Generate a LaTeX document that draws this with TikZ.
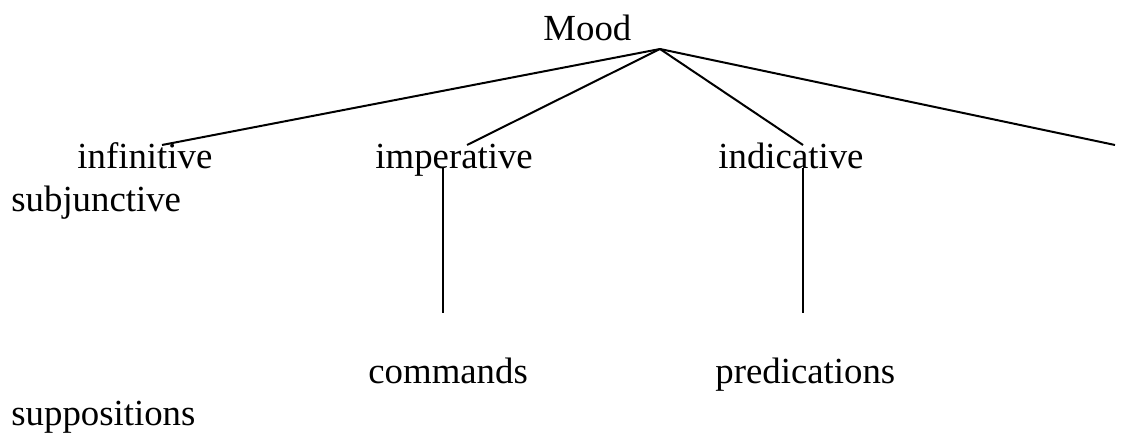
\documentclass[tikz,border=0pt]{standalone}
\usepackage{fontspec}
\setmainfont{Liberation Serif}
\tikzset{
  word/.style={inner sep=0pt, anchor=base west, font=\fontsize{18.4}{22}\selectfont},
  branch/.style={line width=1pt}
}

\begin{document}
\begin{tikzpicture}[x=0.5pt, y=-0.5pt]
            \useasboundingbox (0,0) rectangle (1126,433);

            % Root of the tree
            \node[word] (mood) at (543,41) {Mood};
            \coordinate (apex) at (660,49);

            % First row of words
            \node[word] (infinitive) at (77,169) {infinitive};
            \node[word] (imperative) at (375,169) {imperative};
            \node[word] (indicative) at (718,169) {indicative};
            \node[word] (subjunctive) at (11,212) {subjunctive};

            % Ends of the branches
            \coordinate (infend) at (162,145);
            \coordinate (impend) at (467,145);
            \coordinate (indend) at (803,145);
            \coordinate (subend) at (1115,145);
            \draw[branch] (apex) -- (infend);
            \draw[branch] (apex) -- (impend);
            \draw[branch] (apex) -- (indend);
            \draw[branch] (apex) -- (subend);

            % Second row of words
            \node[word] (commands) at (368,383) {commands};
            \node[word] (predications) at (715,383) {predications};
            \node[word] (suppositions) at (11,425) {suppositions};

            % Stems down from the first row
            \coordinate (impfoot) at (443,168);
            \coordinate (impstem) at (443,313);
            \coordinate (indfoot) at (803,168);
            \coordinate (indstem) at (803,313);
            \draw[branch] (impfoot) -- (impstem);
            \draw[branch] (indfoot) -- (indstem);
        \end{tikzpicture}
\end{document}
